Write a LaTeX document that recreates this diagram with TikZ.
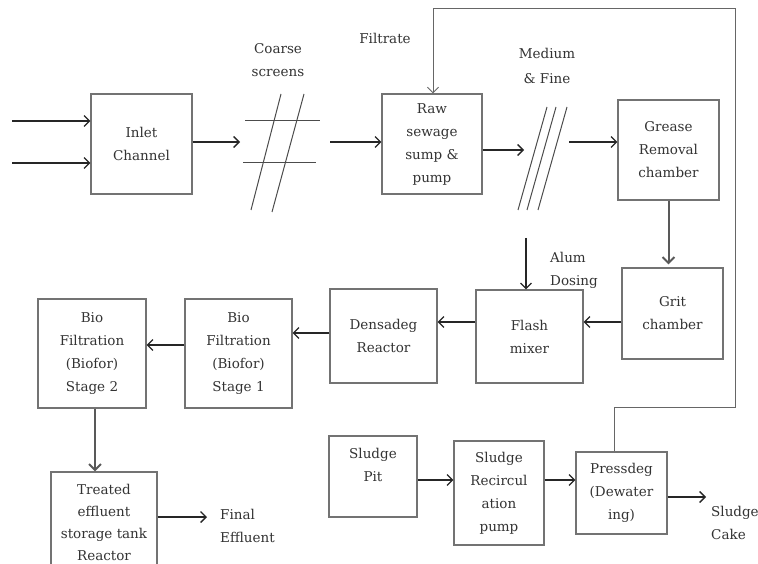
\documentclass[tikz,border=0pt]{standalone}
\usepackage{fontspec}
\setmainfont{DejaVu Serif}
\usetikzlibrary{arrows.meta}
\begin{document}
\begin{tikzpicture}[x=1pt,y=-1pt,
  box/.style={draw=black!55, line width=1.1pt, align=center, inner sep=0pt,
    text=black!80, font=\fontsize{13.5}{23}\selectfont},
  lbl/.style={align=center, text=black!80, font=\fontsize{13.5}{23}\selectfont, inner sep=0pt},
  flow/.style={draw=black!85, line width=1.3pt, -{Straight Barb[length=5.5pt,width=11pt]}},
  gflow/.style={draw=black!65, line width=2pt, -{Straight Barb[length=6pt,width=12pt]}},
  fb/.style={draw=black!60, line width=1pt, -{Straight Barb[length=5.5pt,width=11pt]}},
  scr/.style={draw=black!70, line width=1pt}]
\clip (0,0) rectangle (758,564);
\fill[white] (0,0) rectangle (758,564);

% boxes
\node[box, minimum width=101pt, minimum height=100pt] (inlet) at (141.5,144) {Inlet\\Channel};
\node[box, minimum width=100pt, minimum height=100pt] (raw) at (432,144) {Raw\\sewage\\sump \&\\pump};
\node[box, minimum width=101pt, minimum height=100pt] (grease) at (668.5,150) {Grease\\Removal\\chamber};
\node[box, minimum width=101pt, minimum height=91pt] (grit) at (672.5,313.5) {Grit\\chamber};
\node[box, minimum width=107pt, minimum height=93pt] (flash) at (529.5,336.5) {Flash\\mixer};
\node[box, minimum width=107pt, minimum height=94pt] (dens) at (383.5,336) {Densadeg\\Reactor};
\node[box, minimum width=107pt, minimum height=109pt] (bio1) at (238.5,353.5) {Bio\\Filtration\\(Biofor)\\Stage 1};
\node[box, minimum width=108pt, minimum height=109pt] (bio2) at (92,353.5) {Bio\\Filtration\\(Biofor)\\Stage 2};
\node[box, minimum width=106pt, minimum height=100pt, font=\fontsize{13.5}{22}\selectfont] (treated) at (104,522) {Treated\\effluent\\storage tank\\Reactor};
\node[box, minimum width=88pt, minimum height=81pt] (pit) at (373,476.5) {Sludge\\Pit\\~};
\node[box, minimum width=90pt, minimum height=104pt] (recirc) at (499,493) {Sludge\\Recircul\\ation\\pump};
\node[box, minimum width=91pt, minimum height=82pt] (press) at (621.5,493) {Pressdeg\\(Dewater\\ing)};

% labels
\node[lbl] (coarse) at (278,60) {Coarse\\screens};
\node[lbl] (filtrate) at (385,38) {Filtrate};
\node[lbl] (medium) at (547,66) {Medium\\[2pt]\& Fine};
\node[lbl, align=left, anchor=west] (alumlbl) at (550,270) {Alum\\Dosing};
\node[lbl, align=left, anchor=west] (final) at (220,526) {Final\\Effluent};
\node[lbl, align=left, anchor=west] (cake) at (711,523) {Sludge\\Cake};

% screens
\draw[scr] (245,121) -- (320,121);
\draw[scr] (243,163) -- (316,163);
\draw[scr] (281,94) -- (251,210);
\draw[scr] (304,94) -- (272,212);
\draw[scr] (547,107) -- (518,210);
\draw[scr] (556,107) -- (527,210);
\draw[scr] (567,107) -- (538,210);

% helper coordinates
\coordinate (in1) at (12,121);
\coordinate (in2) at (12,163);
\coordinate (csin) at (240,142);
\coordinate (csout) at (330,142);
\coordinate (msin) at (524,150);
\coordinate (msout) at (569,142);
\coordinate (gf) at (0,322);
\coordinate (db) at (0,333);
\coordinate (bb) at (0,345);
\coordinate (bt) at (95,0);
\coordinate (fe) at (207,517);
\coordinate (pr) at (0,480);
\coordinate (sc) at (706,497);
\coordinate (alum) at (526,238);
\coordinate (fb1) at (614,407);
\coordinate (fb2) at (735,407);
\coordinate (fb3) at (735,9);
\coordinate (fb4) at (433,9);

% connectors
\draw[flow] (in1) -- (in1 -| inlet.west);
\draw[flow] (in2) -- (in2 -| inlet.west);
\draw[flow] (csin -| inlet.east) -- (csin);
\draw[flow] (csout) -- (csout -| raw.west);
\draw[flow] (msin -| raw.east) -- (msin);
\draw[flow] (msout) -- (msout -| grease.west);
\draw[gflow] (grease.south) -- ([yshift=3pt]grease.south |- grit.north);
\draw[flow] (gf -| grit.west) -- (gf -| flash.east);
\draw[flow] (gf -| flash.west) -- (gf -| dens.east);
\draw[flow] (db -| dens.west) -- (db -| bio1.east);
\draw[flow] (bb -| bio1.west) -- (bb -| bio2.east);
\draw[gflow] (bt |- bio2.south) -- (bt |- treated.north);
\draw[flow] (fe -| treated.east) -- (fe);
\draw[flow] (pr -| pit.east) -- (pr -| recirc.west);
\draw[flow] (pr -| recirc.east) -- (pr -| press.west);
\draw[flow] (sc -| press.east) -- (sc);
\draw[flow] (alum) -- (alum |- flash.north);
\draw[fb] (fb1 |- press.north) -- (fb1) -- (fb2) -- (fb3) -- (fb4) -- (fb4 |- raw.north);
\end{tikzpicture}
\end{document}
